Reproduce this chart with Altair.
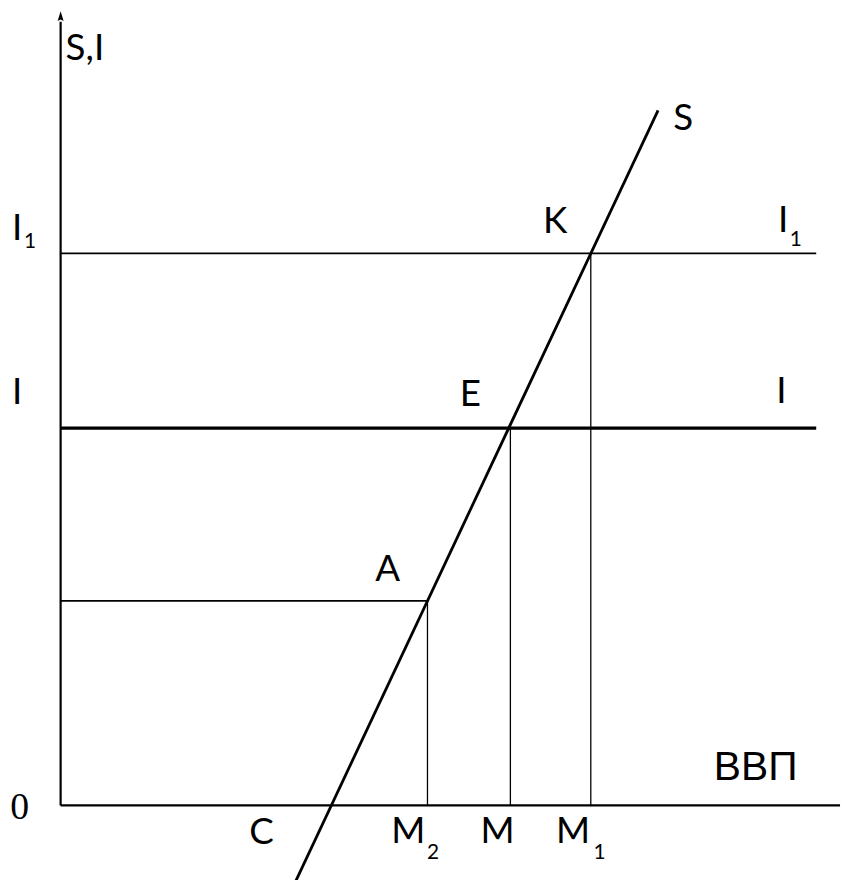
import altair as alt
import pandas as pd

# ---- data (abstract units, origin of the diagram = 0,0) ----
I1_level = 69.67          # investment level I1
I_level = 47.62           # investment level I
A_level = 25.81           # saving at point A
hline_end = 96.7          # right end of the horizontal lines
M2_x, M_x, M1_x = 46.95, 57.56, 67.85   # output levels
S_x = [29.81, 76.46]      # saving line S, end points
S_y = [-10.15, 87.72]

axis_x_end = 99.75
axis_y_end = 98.9
arrow_y = 99.62

label_text = ["S,I", "I", "I", "K", "I", "S", "E", "I", "A", "C", "M", "M", "M", "ВВП"]
label_x = [0.64, -6.23, -6.23, 61.75, 91.80, 78.40, 51.08, 91.60, 40.28, 24.14, 42.31, 53.75, 63.40, 83.60]
label_y = [94.10, 50.60, 71.40, 72.20, 72.40, 85.20, 50.38, 50.75, 28.32, -4.89, -4.76, -4.76, -4.76, 3.26]

sub_text = ["1", "1", "2", "1"]
sub_x = [-4.70, 93.30, 46.90, 68.20]
sub_y = [70.30, 70.55, -6.77, -6.77]

zero_text = ["0"]
zero_x = [-6.45]
zero_y = [-1.7]

# ---- scale set-up (pixel mapping of the diagram) ----
W, H = 840, 872
PX_X, PX_Y = 7.87, 7.98
X0, Y0 = 61 - 8, 808 - 8
xdom = [-X0 / PX_X, (W - X0) / PX_X]
ydom = [(Y0 - H) / PX_Y, Y0 / PX_Y]
xs = alt.Scale(domain=xdom, nice=False, zero=False)
ys = alt.Scale(domain=ydom, nice=False, zero=False)

def X(f="x"):
    return alt.X(f"{f}:Q", scale=xs, axis=None)

def Y(f="y"):
    return alt.Y(f"{f}:Q", scale=ys, axis=None)

segs = pd.DataFrame({
    "x":  [0, 0, 0, 0, 0, M2_x, M_x, M1_x],
    "x2": [axis_x_end, 0, hline_end, hline_end, M2_x, M2_x, M_x, M1_x],
    "y":  [0, 0, I1_level, I_level, A_level, 0, 0, 0],
    "y2": [0, axis_y_end, I1_level, I_level, A_level, A_level, I_level, I1_level],
    "w":  [2.2, 2.2, 1.6, 3.2, 1.6, 1.3, 1.3, 1.3],
    "id": list(range(8)),
})

rules = alt.Chart(segs).mark_rule(color="black", strokeCap="butt").encode(
    x=X(), x2="x2:Q", y=Y(), y2="y2:Q",
    strokeWidth=alt.StrokeWidth("w:Q", scale=None, legend=None),
    detail="id:N",
)

s_df = pd.DataFrame({"x": S_x, "y": S_y})
s_line = alt.Chart(s_df).mark_line(color="black", strokeWidth=2.8).encode(x=X(), y=Y())

arrow = alt.Chart(pd.DataFrame({"x": [0], "y": [arrow_y]})).mark_point(
    shape="M0,-1L0.6,1L0,0.7L-0.6,1Z", filled=True, color="black", size=100, opacity=1
).encode(x=X(), y=Y())

lab_df = pd.DataFrame({"t": label_text, "x": label_x, "y": label_y})
lab_main = lab_df[lab_df.t != "ВВП"]
lab_gdp = lab_df[lab_df.t == "ВВП"]

labels = alt.Chart(lab_main).mark_text(
    font="Lato", fontSize=37, align="left", baseline="alphabetic", color="black"
).encode(x=X(), y=Y(), text="t:N")

gdp = alt.Chart(lab_gdp).mark_text(
    font="Liberation Sans", fontSize=41, align="left", baseline="alphabetic", color="black"
).encode(x=X(), y=Y(), text="t:N")

subs = alt.Chart(pd.DataFrame({"t": sub_text, "x": sub_x, "y": sub_y})).mark_text(
    font="Lato", fontSize=21, align="left", baseline="alphabetic", color="black"
).encode(x=X(), y=Y(), text="t:N")

zero = alt.Chart(pd.DataFrame({"t": zero_text, "x": zero_x, "y": zero_y})).mark_text(
    font="Liberation Serif", fontSize=38, align="left", baseline="alphabetic", color="black"
).encode(x=X(), y=Y(), text="t:N")

chart = alt.layer(rules, s_line, arrow, labels, gdp, subs, zero).properties(
    width=W, height=H, autosize=alt.AutoSizeParams(type="none"), padding=0,
    background="white",
).configure_view(stroke=None)

chart.save("out.html", embed_options={"renderer": "svg", "actions": False})
